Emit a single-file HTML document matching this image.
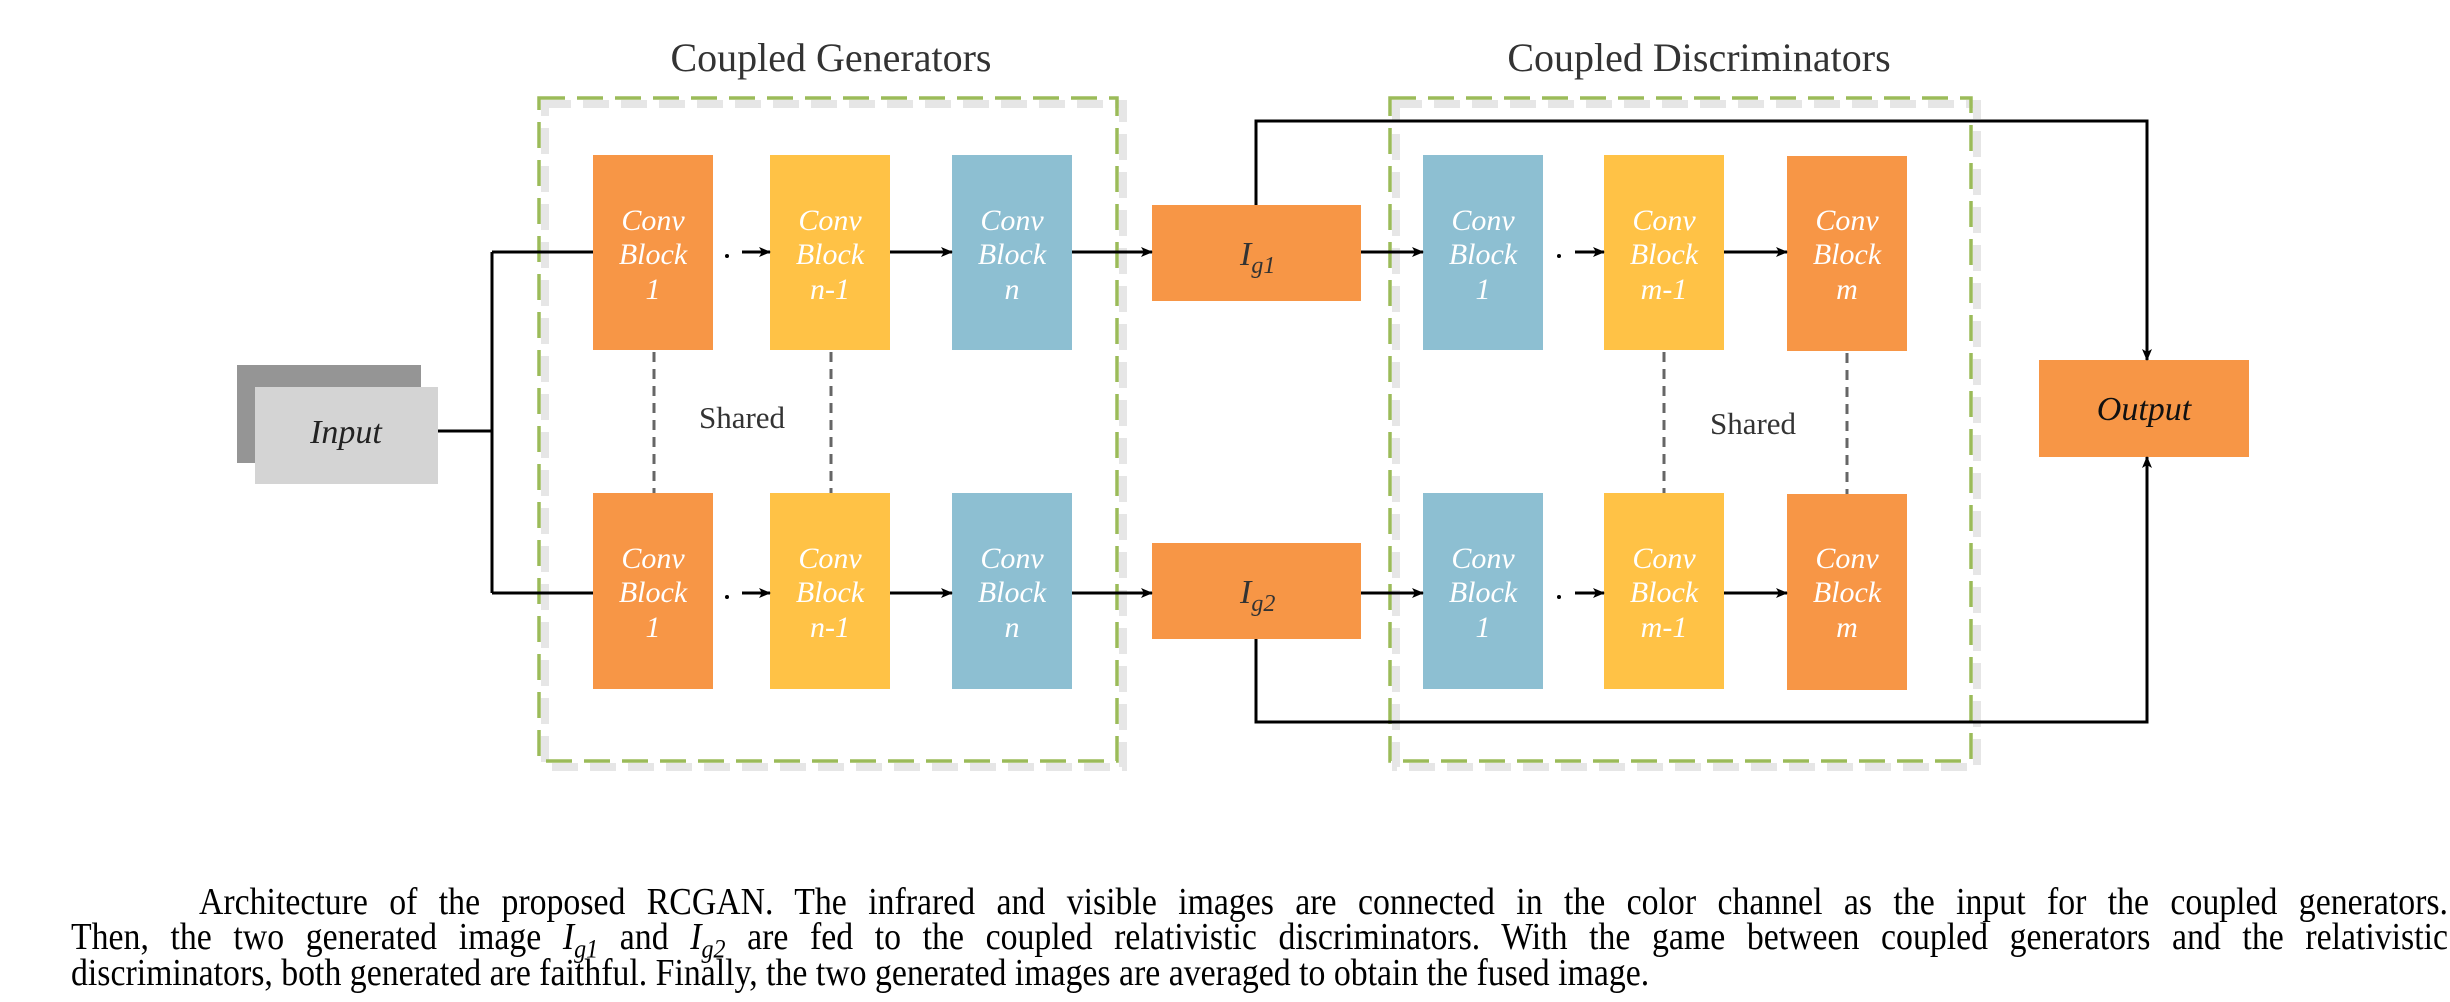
<!DOCTYPE html>
<html><head><meta charset="utf-8"><style>
html,body{margin:0;padding:0;background:#fff;}
body{width:2450px;height:1002px;position:relative;overflow:hidden;}
svg{position:absolute;left:0;top:0;}
.ln{position:absolute;font-family:"Liberation Serif","Times New Roman",serif;font-size:33.8px;line-height:36px;height:36px;color:#000;white-space:nowrap;transform:scaleY(1.12);transform-origin:0 28px;}
.j{text-align:justify;text-align-last:justify;}
.ln i{font-style:italic;}
.ln sub{font-size:24px;line-height:0;}
</style></head><body>
<svg width="2450" height="1002" viewBox="0 0 2450 1002" xmlns="http://www.w3.org/2000/svg">
<defs>
<marker id="ah" markerWidth="12" markerHeight="10" refX="11" refY="5" orient="auto" markerUnits="userSpaceOnUse">
<path d="M0,0 L12,5 L0,10 L3,5 Z" fill="#000"/></marker>
</defs>
<g font-family="Liberation Serif, serif">
<text x="831" y="71" font-size="40" fill="#333" text-anchor="middle">Coupled Generators</text>
<text x="1699" y="71" font-size="40" fill="#333" text-anchor="middle">Coupled Discriminators</text>
</g>
<rect x="545" y="104" width="578" height="663" fill="none" stroke="#e6e6e6" stroke-width="8" stroke-dasharray="26 12"/>
<rect x="539" y="98" width="578" height="663" fill="none" stroke="#9bbb59" stroke-width="3.5" stroke-dasharray="26 12"/>
<rect x="1396" y="104" width="581" height="663" fill="none" stroke="#e6e6e6" stroke-width="8" stroke-dasharray="26 12"/>
<rect x="1390" y="98" width="581" height="663" fill="none" stroke="#9bbb59" stroke-width="3.5" stroke-dasharray="26 12"/>
<rect x="237" y="365" width="184" height="98" fill="#959595"/>
<rect x="255" y="387" width="183" height="97" fill="#d4d4d4"/>
<text x="346" y="443" font-family="Liberation Serif, serif" font-style="italic" font-size="34" fill="#222" text-anchor="middle">Input</text>
<g stroke="#000" stroke-width="3" fill="none">
<path d="M438,431 H492 M492,252 V593 M492,252 H593 M492,593 H593"/>
</g>
<g>
<rect x="593" y="155" width="120" height="195" fill="#f79646"/>
<rect x="770" y="155" width="120" height="195" fill="#ffc246"/>
<rect x="952" y="155" width="120" height="195" fill="#8dbfd2"/>
<rect x="593" y="493" width="120" height="196" fill="#f79646"/>
<rect x="770" y="493" width="120" height="196" fill="#ffc246"/>
<rect x="952" y="493" width="120" height="196" fill="#8dbfd2"/>
<rect x="1152" y="205" width="209" height="96" fill="#f79646"/>
<rect x="1152" y="543" width="209" height="96" fill="#f79646"/>
<rect x="1423" y="155" width="120" height="195" fill="#8dbfd2"/>
<rect x="1604" y="155" width="120" height="195" fill="#ffc246"/>
<rect x="1787" y="156" width="120" height="195" fill="#f79646"/>
<rect x="1423" y="493" width="120" height="196" fill="#8dbfd2"/>
<rect x="1604" y="493" width="120" height="196" fill="#ffc246"/>
<rect x="1787" y="494" width="120" height="196" fill="#f79646"/>
<rect x="2039" y="360" width="210" height="97" fill="#f79646"/>
</g>
<g font-family="Liberation Serif, serif" font-style="italic" font-size="30" fill="#fff" text-anchor="middle">
<text x="653" y="230">Conv</text><text x="653" y="264">Block</text><text x="653" y="299">1</text>
<text x="830" y="230">Conv</text><text x="830" y="264">Block</text><text x="830" y="299">n-1</text>
<text x="1012" y="230">Conv</text><text x="1012" y="264">Block</text><text x="1012" y="299">n</text>
<text x="653" y="568">Conv</text><text x="653" y="602">Block</text><text x="653" y="637">1</text>
<text x="830" y="568">Conv</text><text x="830" y="602">Block</text><text x="830" y="637">n-1</text>
<text x="1012" y="568">Conv</text><text x="1012" y="602">Block</text><text x="1012" y="637">n</text>
<text x="1483" y="230">Conv</text><text x="1483" y="264">Block</text><text x="1483" y="299">1</text>
<text x="1664" y="230">Conv</text><text x="1664" y="264">Block</text><text x="1664" y="299">m-1</text>
<text x="1847" y="230">Conv</text><text x="1847" y="264">Block</text><text x="1847" y="299">m</text>
<text x="1483" y="568">Conv</text><text x="1483" y="602">Block</text><text x="1483" y="637">1</text>
<text x="1664" y="568">Conv</text><text x="1664" y="602">Block</text><text x="1664" y="637">m-1</text>
<text x="1847" y="568">Conv</text><text x="1847" y="602">Block</text><text x="1847" y="637">m</text>
</g>
<g font-family="Liberation Serif, serif" font-style="italic" fill="#333">
<text x="1240" y="265" font-size="34">I<tspan font-size="24" dy="8">g1</tspan></text>
<text x="1240" y="603" font-size="34">I<tspan font-size="24" dy="8">g2</tspan></text>
<text x="2144" y="420" font-size="34" fill="#111" text-anchor="middle">Output</text>
</g>
<g font-family="Liberation Serif, serif" font-size="31" fill="#333" text-anchor="middle">
<text x="742" y="428">Shared</text>
<text x="1753" y="434">Shared</text>
</g>
<g stroke="#666" stroke-width="3" stroke-dasharray="10 7">
<path d="M654,352 V493 M831,352 V493 M1664,352 V493 M1847,353 V494"/>
</g>
<g stroke="#000" stroke-width="3" fill="none" marker-end="url(#ah)">
<path d="M742,252 H770"/><path d="M890,252 H952"/><path d="M1072,252 H1152"/>
<path d="M742,593 H770"/><path d="M890,593 H952"/><path d="M1072,593 H1152"/>
<path d="M1361,252 H1423"/><path d="M1575,252 H1604"/><path d="M1724,252 H1787"/>
<path d="M1361,593 H1423"/><path d="M1575,593 H1604"/><path d="M1724,593 H1787"/>
<path d="M1256,205 V121 H2147 V360"/>
<path d="M1256,639 V722 H2147 V457"/>
</g>
<g fill="#000">
<circle cx="727" cy="256" r="2"/><circle cx="727" cy="597" r="2"/>
<circle cx="1559" cy="256" r="2"/><circle cx="1559" cy="597" r="2"/>
</g>
</svg>
<div class="ln j" style="left:199px;width:2249px;top:886px;">Architecture of the proposed RCGAN. The infrared and visible images are connected in the color channel as the input for the coupled generators.</div>
<div class="ln j" style="left:71px;width:2377px;top:921px;">Then, the two generated image <i>I<sub>g1</sub></i> and <i>I<sub>g2</sub></i> are fed to the coupled relativistic discriminators. With the game between coupled generators and the relativistic</div>
<div class="ln" style="left:71px;top:957px;">discriminators, both generated are faithful. Finally, the two generated images are averaged to obtain the fused image.</div>
</body></html>
